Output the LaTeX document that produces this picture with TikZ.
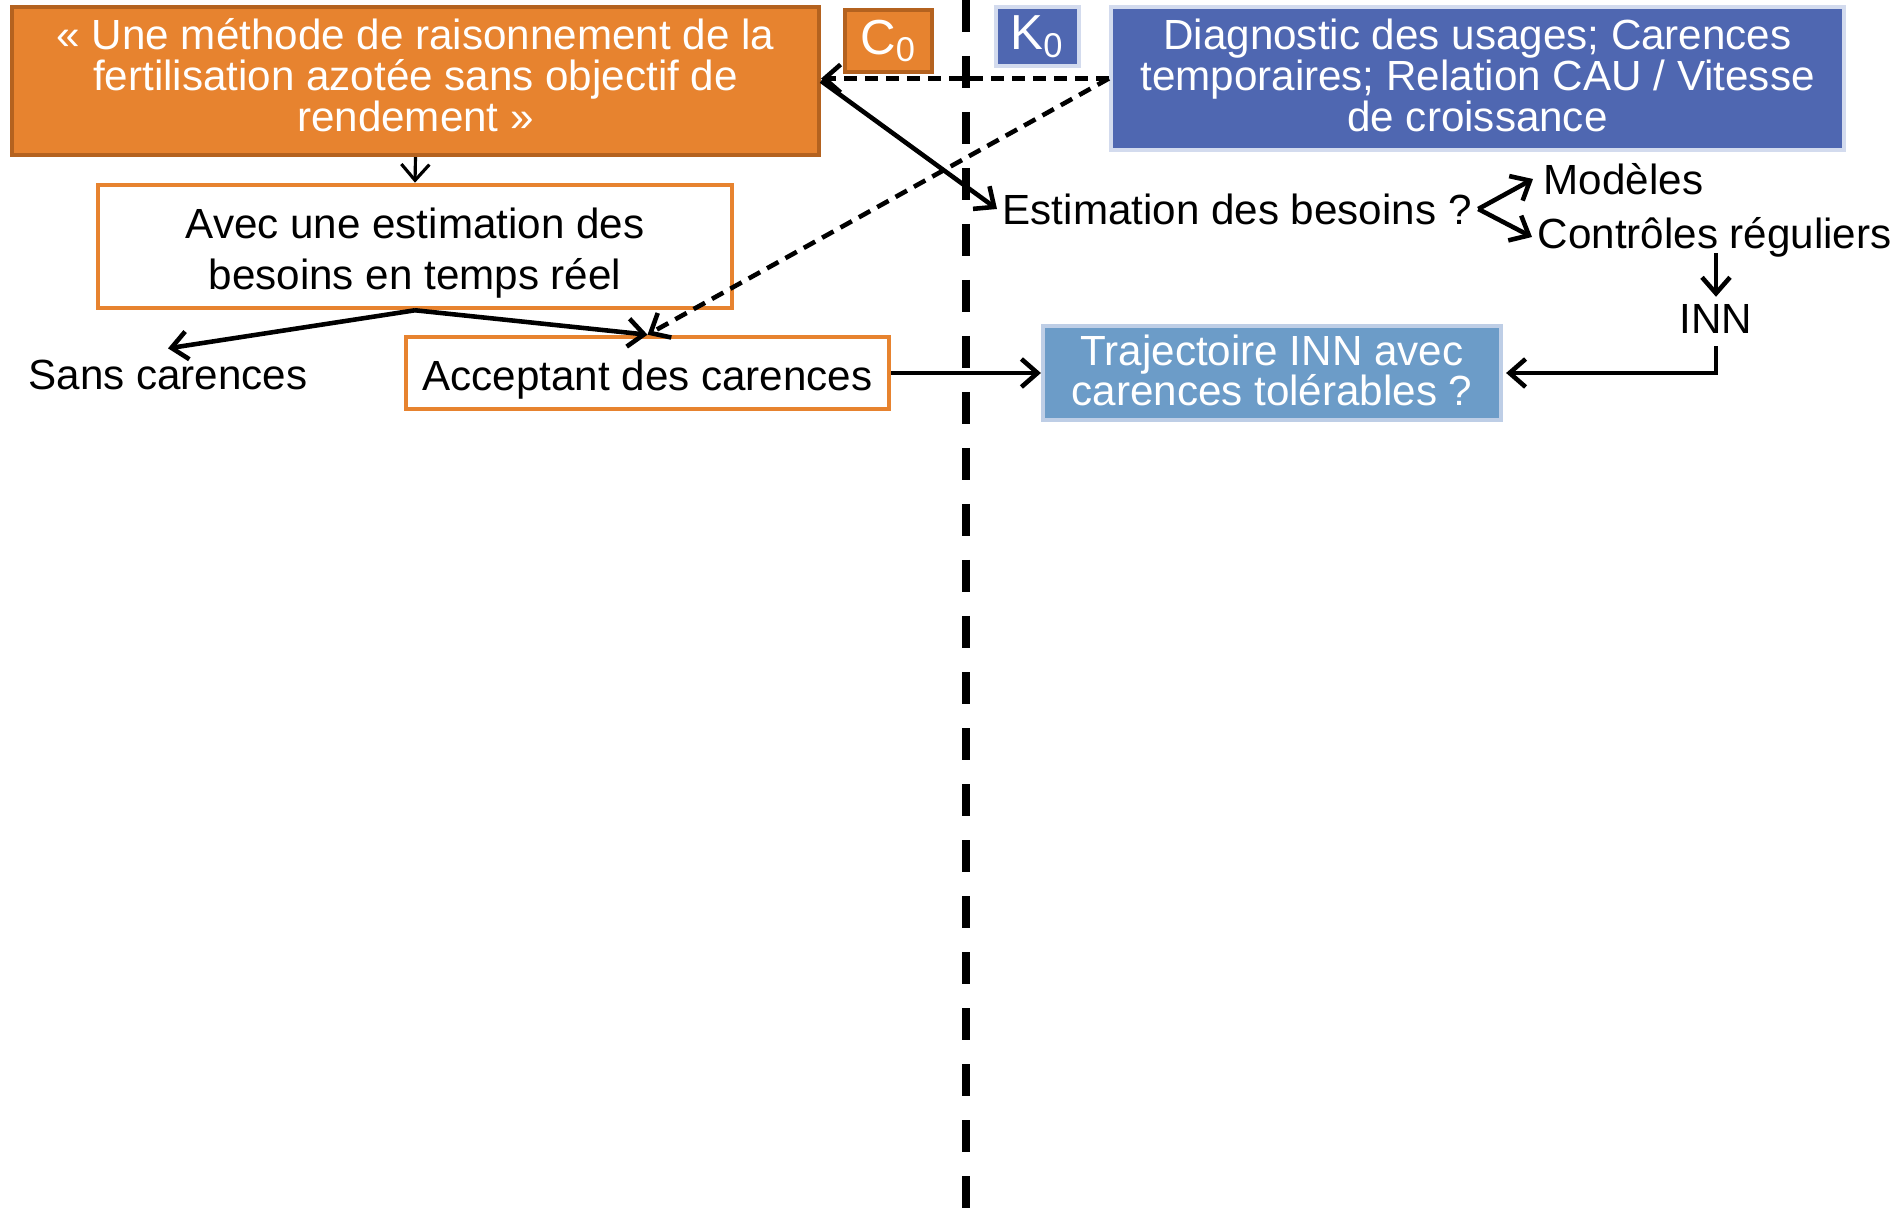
\documentclass[tikz,border=0pt]{standalone}
\usepackage{fontspec}
\setmainfont{Liberation Sans}
\usepackage{xcolor}
\usetikzlibrary{arrows.meta,positioning,calc}
\definecolor{orfill}{HTML}{E7832F}
\definecolor{ordark}{HTML}{B4621F}
\definecolor{bldark}{HTML}{4F67B1}
\definecolor{bllight}{HTML}{6C9CC8}
\definecolor{blline}{HTML}{D3DBEE}
\newcommand{\tightlines}{\lineskiplimit=-20pt\relax}
\newcommand{\dn}[1]{\rule[-#1]{0pt}{0pt}}
\newcommand{\up}[1]{\rule{0pt}{#1}}
\tikzset{
  orbox/.style    = {draw=ordark, line width=1.2pt, fill=orfill, text=white,
                     inner sep=0pt, align=center},
  whbox/.style    = {draw=orfill, line width=1.3pt, fill=white,
                     inner sep=0pt, align=center},
  blbox/.style    = {draw=blline, line width=1.2pt, fill=bldark, text=white,
                     inner sep=0pt, align=center},
  plain/.style    = {inner sep=0pt},
  sig/.style      = {-{Straight Barb[length=1.6mm,width=2.8mm]}, line width=1.3pt},
  dsig/.style     = {sig, dash pattern=on 1.3mm off 0.8mm},
}

\begin{document}
\begin{tikzpicture}[font=\fontsize{12}{11.6}\selectfont\tightlines]
\useasboundingbox (0,0) rectangle (18.93,-12.24);
\coordinate (vtop) at (9.66,0);
\coordinate (vbot) at (9.66,-12.24);
\draw[line width=2.3pt, dash pattern=on 3.2mm off 2.4mm] (vtop) -- (vbot);
\node[orbox,minimum width=8.07cm,minimum height=1.48cm] (meth) at (4.155,-0.81)
  {«~Une méthode de raisonnement de la\\fertilisation azotée sans objectif de\\rendement~»\dn{0.12cm}};
\node[orbox,minimum width=0.87cm,minimum height=0.62cm,font=\fontsize{14}{14}\selectfont] (czero) at (8.885,-0.41) {C\textsubscript{0}};
\node[blbox,minimum width=0.83cm,minimum height=0.59cm,font=\fontsize{14}{14}\selectfont] (kzero) at (10.375,-0.365) {K\textsubscript{0}};
\node[blbox,minimum width=7.33cm,minimum height=1.43cm] (diag) at (14.775,-0.785)
  {Diagnostic des usages; Carences\\temporaires; Relation CAU / Vitesse\\de croissance\dn{0.07cm}};
\node[whbox,minimum width=6.34cm,minimum height=1.23cm,font=\fontsize{12}{14.5}\selectfont] (avec) at (4.15,-2.465)
  {\up{0.43cm}Avec une estimation des\\besoins en temps réel};
\node[plain] (sans) at (1.68,-3.75) {Sans carences};
\node[whbox,minimum width=4.83cm,minimum height=0.72cm] (accept) at (6.475,-3.73) {\up{0.44cm}Acceptant des carences};
\node[blbox,draw=blline!80!bllight,fill=bllight,minimum width=4.58cm,minimum height=0.94cm,font=\fontsize{12}{11.5}\selectfont\tightlines] (traj) at (12.72,-3.73)
  {Trajectoire INN avec\\carences tolérables ?\dn{0.05cm}};
\node[plain,anchor=west] (estbes) at (10.02,-2.09) {Estimation des besoins ?};
\node[plain,anchor=west] (modeles) at (15.43,-1.79) {Modèles};
\node[plain,anchor=west] (controles) at (15.37,-2.37) {Contrôles réguliers};
\node[plain] (inn) at (17.16,-3.19) {INN};
\draw[dsig] (diag.west) -- (diag.west -| meth.east);
\draw[dsig] (diag.west) -- (accept.north);
\draw[sig] (meth.east) -- ([xshift=-0.5mm]estbes.west);
\draw[sig, line width=0.9pt] (meth.south) -- (avec.north);
\draw[sig] (avec.south) -- ([yshift=1.1mm]sans.north);
\draw[sig] (avec.south) -- (accept.north);
\draw[sig] (accept.east) -- (traj.west);
\draw[sig] ([xshift=0.6mm]estbes.east) -- ([xshift=-1mm]modeles.west);
\draw[sig] ([xshift=0.6mm]estbes.east) -- ([xshift=-0.5mm]controles.west);
\draw[sig] ([yshift=0.45mm]inn.north |- controles.south) -- ([yshift=0.7mm]inn.north);
\draw[sig] ([yshift=-1.2mm]inn.south) |- ([xshift=0.3mm]traj.east);
\end{tikzpicture}
\end{document}
